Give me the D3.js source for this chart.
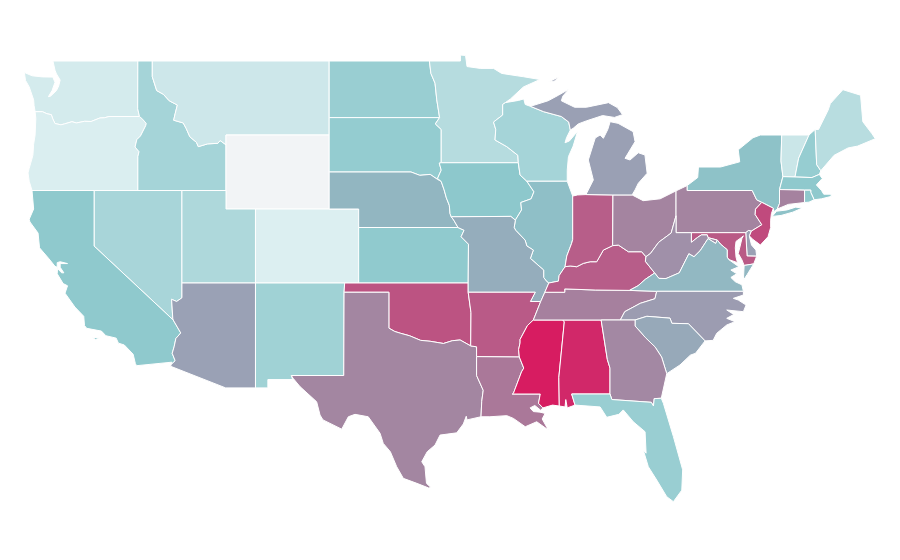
<!DOCTYPE html>
<html><head><meta charset="utf-8">
<script src="https://cdn.jsdelivr.net/npm/d3@7"></script>
<style>html,body{margin:0;background:#fff}svg{display:block}</style></head>
<body><svg id="map" width="900" height="560"></svg>
<script>
const colorDomain=[0,8,40,60,70,100];
const colorRange=["#f2f4f6","#ddeff1","#8cc8cc","#9aa0b4","#a484a0","#d81a60"];
// Shared borders, longitude/latitude
const snake=[[-117.03,43.83],[-116.95,44.1],[-117.22,44.35],[-117.1,44.75],[-116.85,44.95],[-116.5,45.5],[-116.46,45.62],[-116.7,45.85],[-116.92,46]];
const columbia=[[-116.92,46],[-118.98,46],[-119.3,45.93],[-119.6,45.92],[-120.2,45.73],[-120.65,45.74],[-121.2,45.65],[-121.5,45.72],[-122,45.6],[-122.25,45.55],[-122.65,45.62],[-122.8,45.87],[-122.9,46.1],[-123.2,46.15],[-123.5,46.26],[-124,46.26]];
const idMt=[[-116.05,49],[-116.05,48.15],[-115.75,47.4],[-115.3,47.2],[-114.9,46.85],[-114.35,46.62],[-114.5,46.15],[-114.6,45.8],[-113.95,45.65],[-113.75,45.35],[-113.5,44.9],[-113.05,44.6],[-112.93,44.37],[-112.3,44.52],[-111.6,44.55],[-111.45,44.7],[-111.05,44.47]];
const coloradoN=[[-114.04,37],[-114.04,36.2],[-114.4,36],[-114.74,36.12],[-114.66,35.09],[-114.63,35]];
const coloradoS=[[-114.63,35],[-114.12,34.3],[-114.45,34],[-114.57,33.55],[-114.7,33.2],[-114.5,32.8],[-114.76,32.6]];
const redRiver=[[-100,34.56],[-99.6,34.38],[-99.2,34.28],[-98.6,34.15],[-97.85,33.9],[-97.2,33.85],[-96.3,33.73],[-95.7,33.88],[-95.17,33.92],[-94.45,33.6]];
const redNorth=[[-97.25,49],[-97.15,48.33],[-96.87,47.8],[-96.75,46.9],[-96.56,45.94]];
const bigStone=[[-96.56,45.94],[-96.85,45.6],[-96.45,45.3],[-96.45,43.5]];
const bigSioux=[[-96.45,43.5],[-96.58,43.48],[-96.45,43.1],[-96.7,42.65],[-96.45,42.49]];
const missouriNE=[[-96.45,42.49],[-96.25,42.03],[-96.1,41.6],[-95.9,41.2],[-95.85,40.75],[-95.77,40.58]];
const neSd=[[-96.45,42.49],[-96.7,42.6],[-97.2,42.87],[-97.9,42.82],[-98.5,43],[-104.05,43]];
const stCroix=[[-92.1,46.75],[-92.28,46.65],[-92.28,46.08],[-92.9,45.7],[-92.75,45.3],[-92.8,44.73],[-92,44.37],[-91.25,43.9],[-91.22,43.5]];
const upperMiss=[[-91.22,43.5],[-91.1,42.84],[-90.64,42.5]];
const iaIl=[[-90.64,42.5],[-90.16,41.93],[-90.35,41.55],[-91.05,41.35],[-91,40.95],[-91.42,40.4]];
const moIl=[[-91.42,40.4],[-91.5,40],[-91.4,39.85],[-90.76,39.32],[-90.64,39],[-90.2,38.78],[-90.4,38.33],[-89.5,37.7],[-89.5,37.3],[-89.28,37.07],[-89.15,37]];
const moAr=[[-94.62,36.5],[-90.07,36.5],[-90.4,36],[-89.7,36]];
const lowerMissA=[[-89.7,36],[-89.85,35.7],[-90.2,35]];
const lowerMissB=[[-90.2,35],[-90.6,34.7],[-91.1,33.95],[-91.1,33.76],[-91.2,33.4],[-91.15,33]];
const lowerMissC=[[-91.15,33],[-90.85,32.4],[-91,32.2],[-91.55,31.04],[-91.62,31]];
const wabash=[[-87.53,39.35],[-87.6,39.15],[-87.93,38.46],[-88.05,37.88]];
const ohioIlKy=[[-88.05,37.88],[-88.45,37.4],[-88.5,37.1],[-89.15,37]];
const ohioInKy=[[-84.82,39.02],[-85.45,38.78],[-85.9,38.15],[-86.35,38.15],[-86.81,38.06],[-87.26,37.88],[-87.7,37.92],[-88.05,37.88]];
const ohioOhKy=[[-82.56,38.42],[-82.85,38.69],[-83.75,38.69],[-84.43,39.05],[-84.82,39.02]];
const ohioOhWv=[[-80.52,40.64],[-80.85,39.7],[-81.7,39.2],[-82.25,38.6],[-82.56,38.42]];
const tugFork=[[-81.97,37.54],[-82.6,38.17],[-82.56,38.42]];
const kyVa=[[-83.68,36.6],[-83.1,36.85],[-82.6,37.2],[-81.97,37.54]];
const vaWv=[[-77.72,39.32],[-77.83,39.14],[-78.35,39.4],[-78.87,38.76],[-79.3,38.42],[-79.65,38.58],[-80.3,37.55],[-81.2,37.24],[-81.68,37.25],[-81.97,37.54]];
const potomacWv=[[-79.48,39.2],[-79.05,39.47],[-78.8,39.6],[-78.4,39.6],[-78.35,39.45],[-77.72,39.32]];
const potomacVa=[[-77.72,39.32],[-77.5,39.1],[-77.05,38.8],[-77.05,38.4],[-76.95,38.27],[-76.26,37.88]];
const tnNc=[[-81.83,36.55],[-81.95,36.15],[-82.95,35.9],[-84,35.45],[-84.3,35]];
const delawareUp=[[-75.35,42],[-75.05,41.5],[-74.7,41.36]];
const delawareMid=[[-74.7,41.36],[-75.13,40.99],[-75.15,40.7],[-74.7,40.15],[-75.42,39.8]];
const savannah=[[-83.3,35],[-83.3,34.68],[-82.6,34.05],[-81.95,33.55],[-81.5,33],[-81.15,32.1]];
const wiMi=[[-90.4,46.55],[-89.5,46.26],[-88.3,46],[-87.8,45.7],[-87.69,45.27]];
const shoreSouth=[[-97.15,25.95],[-97.3,25.92],[-98.1,26.17],[-99.02,26.44],[-99.47,27.07],[-99.9,27.88],[-100.38,28.33],[-100.6,28.88],[-101.4,29.77],[-102.3,29.9],[-102.75,29.77],[-103.2,29.1],[-104.47,29.6],[-104.67,29.86],[-104.9,30.58],[-106.03,31.4],[-106.5,31.85]];
// State geometry, one list of rings for every state
const geoWA=[[[-122.79,49],[-117.03,49],[-117.04,46.42],...columbia,[-124.07,46.6],[-124.1,46.9],[-124.4,47.6],[-124.65,47.95],[-124.73,48.38],[-124.2,48.2],[-123.5,48.14],[-122.8,48.13],[-122.65,47.85],[-122.85,47.4],[-123.1,47.07],[-122.95,47.1],[-122.55,47.4],[-122.4,47.65],[-122.3,47.97],[-122.55,48.3],[-122.65,48.5]]];
const geoOR=[[...columbia.slice().reverse(),...snake.slice().reverse().slice(1),[-117.03,42],[-124.21,42],[-124.4,42.5],[-124.48,42.95],[-124.4,43.2],[-124.15,43.9],[-124.1,44.5],[-124,45],[-123.95,45.9]]];
const geoID=[[[-117.03,49],...idMt,[-111.05,42],[-117.03,42],...snake,[-117.04,46.42]]];
const geoMT=[[...idMt,[-111.05,45],[-104.05,45],[-104.05,49]]];
const geoWY=[[[-111.05,45],[-104.05,45],[-104.05,41],[-111.05,41]]];
const geoNV=[[[-120,42],[-114.04,42],...coloradoN,[-120,39]]];
const geoCA=[[[-124.21,42],[-120,42],[-120,39],...coloradoS,[-114.72,32.72],[-117.12,32.53],[-117.2,32.65],[-117.35,33.15],[-117.95,33.65],[-118.35,33.75],[-118.5,34.02],[-119.2,34.15],[-119.5,34.4],[-120.5,34.55],[-120.65,34.7],[-120.7,35.2],[-121.3,35.7],[-121.97,36.45],[-121.8,36.85],[-122.1,36.97],[-122.5,37.5],[-122.48,37.78],[-122.2,37.55],[-122.05,37.55],[-122.3,37.85],[-122.3,38.05],[-121.8,38.05],[-122.3,38.15],[-122.5,38.1],[-122.5,37.85],[-122.65,37.9],[-123.05,38.3],[-123.7,38.9],[-123.8,39.7],[-124.35,40.3],[-124.4,40.45],[-124.1,41]],[[-120.1,34.05],[-119.55,34.05],[-119.9,33.95]]];
const geoUT=[[[-114.04,42],[-111.05,42],[-111.05,41],[-109.05,41],[-109.05,37],[-114.04,37]]];
const geoCO=[[[-109.05,41],[-102.05,41],[-102.05,37],[-109.05,37]]];
const geoAZ=[[...coloradoN,...coloradoS.slice(1),[-114.81,32.5],[-111.07,31.33],[-109.05,31.33],[-109.05,37]]];
const geoNM=[[[-109.05,37],[-103,37],[-103.04,36.5],[-103.06,32],[-106.62,32],[-106.53,31.78],[-108.21,31.78],[-108.21,31.33],[-109.05,31.33]]];
const geoND=[[[-104.05,49],...redNorth,[-104.05,45.94]]];
const geoSD=[[[-104.05,45.94],...bigStone,...bigSioux.slice(1),...neSd.slice(1)]];
const geoNE=[[[-104.05,43],...neSd.slice().reverse().slice(1),...missouriNE.slice(1),[-95.6,40.4],[-95.31,40],[-102.05,40],[-102.05,41],[-104.05,41]]];
const geoKS=[[[-102.05,40],[-95.31,40],[-94.9,39.85],[-95.1,39.5],[-94.6,39.1],[-94.62,37],[-102.05,37]]];
const geoOK=[[[-103,37],[-94.62,37],[-94.62,36.5],[-94.43,35.4],...redRiver.slice().reverse(),[-100,36.5],[-103.04,36.5]]];
const geoTX=[[[-103.04,36.5],[-100,36.5],...redRiver,[-94.05,33.55],[-94.05,33.02],[-94.05,32],[-93.6,31.2],[-93.7,30.6],[-93.75,29.77],[-94.7,29.6],[-94.75,29.8],[-94.95,29.38],[-95.4,28.9],[-96.53,28.78],[-96.87,28.24],[-97.4,27.88],[-97.77,27.34],[-97.55,27.07],[-97.45,26.17],...shoreSouth,[-106.62,32],[-103.06,32]]];
const geoMN=[[[-97.25,49],[-95.15,49],[-95.15,49.32],[-94.8,49.3],[-94.7,48.7],[-93.8,48.6],[-92.9,48.6],[-92.35,48.33],[-91.3,48.2],[-90.87,48.15],[-89.75,48],[-90.87,47.6],[-91.75,46.95],...stCroix,[-96.45,43.5],...bigStone.slice().reverse().slice(1),...redNorth.slice().reverse().slice(1,-1)]];
const geoIA=[[[-96.45,43.5],...upperMiss,...iaIl.slice(1),[-91.73,40.6],[-95.77,40.58],...missouriNE.slice().reverse().slice(1),...bigSioux.slice().reverse().slice(1,-1)]];
const geoWI=[[[-92.1,46.75],[-91.2,46.87],[-90.85,46.95],[-90.75,46.65],...wiMi,[-87.95,44.85],[-88.05,44.58],[-87.75,44.68],[-87.2,45.2],[-87.5,44.4],[-87.82,43.83],[-87.9,43.1],[-87.9,42.5],[-90.64,42.5],...upperMiss.slice().reverse().slice(1),...stCroix.slice().reverse().slice(1,-1)]];
const geoIL=[[[-90.64,42.5],[-87.9,42.5],[-87.53,41.7],...wabash,...ohioIlKy.slice(1),...moIl.slice().reverse().slice(1),...iaIl.slice().reverse().slice(1,-1)]];
const geoMO=[[[-95.77,40.58],[-91.73,40.6],...moIl,[-89.42,36.5],[-89.7,36],[-90.4,36],[-90.07,36.5],[-94.62,36.5],[-94.62,37],[-94.6,39.1],[-95.1,39.5],[-94.9,39.85],[-95.31,40],[-95.6,40.4]]];
const geoAR=[[...moAr,...lowerMissA.slice(1),...lowerMissB.slice(1),[-94.05,33.02],[-94.05,33.55],[-94.45,33.6],[-94.43,35.4]]];
const geoLA=[[[-94.05,33.02],...lowerMissC,[-89.73,31],[-89.85,30.5],[-89.55,30.25],[-89.7,30.12],[-90.1,30.38],[-90.42,30.25],[-90.2,30.05],[-89.75,30.02],[-89.4,29.95],[-89.6,29.65],[-89.18,29.05],[-89.97,29.5],[-90.75,29.23],[-91.55,29.68],[-92,29.83],[-93.15,29.77],[-93.75,29.77],[-93.7,30.6],[-93.6,31.2],[-94.05,32]]];
const geoMS=[[...lowerMissB,...lowerMissC.slice(1),[-89.73,31],[-89.85,30.5],[-89.55,30.25],[-88.9,30.4],[-88.44,30.35],[-88.47,31.9],[-88.1,34.9],[-88.2,35]]];
const geoAL=[[[-88.2,35],[-85.6,35],[-85.18,32.87],[-85,32.4],[-85,31],[-87.6,31],[-87.37,30.4],[-87.9,30.25],[-88,30.7],[-88.05,30.3],[-88.44,30.35],[-88.47,31.9],[-88.1,34.9]]];
const geoTN=[[[-89.42,36.5],[-88.07,36.5],[-88.07,36.68],[-86,36.62],[-83.68,36.6],...tnNc,[-90.2,35],...lowerMissA.slice().reverse().slice(1)]];
const geoKY=[[[-89.15,37],...ohioIlKy.slice().reverse().slice(1),...ohioInKy.slice().reverse().slice(1),...ohioOhKy.slice().reverse().slice(1),...tugFork.slice().reverse().slice(1),...kyVa.slice().reverse().slice(1),[-86,36.62],[-88.07,36.68],[-88.07,36.5],[-89.42,36.5]]];
const geoIN=[[[-87.53,41.7],[-87.2,41.76],[-86.63,41.78],[-84.8,41.76],...ohioInKy,...wabash.slice().reverse().slice(1)]];
const geoOH=[[[-84.8,41.76],[-83.5,41.76],[-82.75,41.45],[-81.6,41.55],[-80.52,41.98],...ohioOhWv,...ohioOhKy.slice(1)]];
const geoMI=[[[-86.63,41.78],[-84.8,41.76],[-83.5,41.76],[-83.3,42.03],[-83.08,42.39],[-82.48,42.93],[-82.63,43.92],[-83.08,44.04],[-83.64,43.65],[-83.98,43.74],[-83.3,44.64],[-83.43,45.18],[-84.45,45.63],[-84.99,45.72],[-85.15,45.3],[-85.45,44.82],[-85.67,45],[-86,44.84],[-86.47,43.65],[-86.13,42.57]],[[-90.4,46.55],[-89.2,46.85],[-88.5,47.15],[-87.8,47.47],[-88.2,47.1],[-88.3,46.85],[-87.4,46.5],[-86.6,46.5],[-85.1,46.75],[-84.5,46.48],[-84.15,46.1],[-84.7,45.95],[-85.5,46.05],[-86.58,45.77],[-87.15,45.6],[-87.5,45.36],[-87.69,45.27],[-87.8,45.7],[-88.3,46],[-89.5,46.26]],[[-89.15,47.87],[-88.5,48.13],[-88.75,47.92]]];
const geoPA=[[[-80.52,41.98],[-79.76,42.27],[-79.76,42],...delawareUp,...delawareMid.slice(1),[-75.6,39.84],[-75.79,39.72],[-79.48,39.72],[-80.52,39.72],[-80.52,40.64]]];
const geoNY=[[[-79.76,42],[-79.76,42.27],[-79.05,42.7],[-79,43.27],[-77.5,43.27],[-76.2,43.55],[-76.3,44.2],[-75.3,44.85],[-74.8,45],[-73.35,45],[-73.4,43.6],[-73.27,42.75],[-73.5,42.05],[-73.5,41.3],[-73.65,41],[-73.9,40.85],[-73.92,41.04],...delawareUp.slice().reverse()],[[-74,40.6],[-73.7,40.88],[-73,40.95],[-72.4,41.1],[-71.95,41.05],[-72.6,40.83],[-73.4,40.65]]];
const geoNJ=[[[-74.7,41.36],[-73.92,41.04],[-74.05,40.75],[-74.1,40.4],[-74.1,40],[-74.28,39.5],[-74.8,39.05],[-74.95,39.15],[-75.3,39.35],[-75.55,39.55],[-75.42,39.8],...delawareMid.slice(1,-1).reverse()]];
const geoDE=[[[-75.79,39.72],[-75.6,39.84],[-75.42,39.8],[-75.55,39.55],[-75.4,39.05],[-75.1,38.78],[-75.05,38.45],[-75.7,38.46]]];
const geoMD=[[[-79.48,39.72],[-75.79,39.72],[-75.7,38.46],[-75.05,38.45],[-75.25,38.03],[-75.9,37.95],[-76.05,38.25],[-76.3,38.6],[-76.2,38.9],[-76.05,39.4],[-75.95,39.55],[-76.1,39.45],[-76.45,39.25],[-76.5,38.9],[-76.45,38.4],[-76.35,38.1],[-76.95,38.27],[-77.05,38.4],[-77.05,38.8],[-77.5,39.1],[-77.72,39.32],...potomacWv.slice().reverse().slice(1)]];
const geoWV=[[[-80.52,40.64],[-80.52,39.72],[-79.48,39.72],...potomacWv,...vaWv.slice(1),...tugFork.slice(1),...ohioOhWv.slice().reverse().slice(1,-1)]];
const geoVA=[[[-83.68,36.6],...kyVa.slice(1),...vaWv.slice().reverse().slice(1),...potomacVa.slice(1),[-76.8,37.7],[-76.4,37.5],[-76.8,37.3],[-76.5,37.07],[-76.05,36.9],[-75.95,36.55],[-81.83,36.55]],[[-75.25,38.03],[-75.9,37.95],[-75.95,37.15],[-75.7,37.45]]];
const geoNC=[[[-84.3,35],[-83.3,35],[-82.5,35.2],[-80.93,35.1],[-80.8,34.82],[-79.68,34.8],[-78.55,33.87],[-78,33.9],[-77.76,34.28],[-77.08,34.73],[-76.52,34.91],[-77.08,35.09],[-76.6,35.3],[-77.08,35.54],[-75.95,35.45],[-75.77,35.81],[-76.3,36.08],[-76.63,36.17],[-75.95,36.35],[-75.95,36.55],[-81.83,36.55],...tnNc.slice(1,-1)]];
const geoSC=[[...savannah,[-80.25,32.57],[-79.55,33.1],[-79.2,33.2],[-78.55,33.87],[-79.68,34.8],[-80.8,34.82],[-80.93,35.1],[-82.5,35.2]]];
const geoGA=[[[-85.6,35],[-83.3,35],...savannah.slice(1),[-81.52,30.77],[-82,30.75],[-82.05,30.35],[-82.2,30.55],[-84.87,30.7],[-85,31],[-85,32.4],[-85.18,32.87]]];
const geoFL=[[[-87.6,31],[-85,31],[-84.87,30.7],[-82.2,30.55],[-82.05,30.35],[-82,30.75],[-81.52,30.77],[-81.38,30.5],[-80.7,28.7],[-80.07,26.9],[-80.13,25.8],[-80.7,25.18],[-81.15,25.45],[-81.83,26.35],[-82.4,27.07],[-82.74,27.97],[-82.55,27.8],[-82.62,28.96],[-83.42,29.5],[-84.1,30.14],[-84.4,29.9],[-85.22,29.74],[-85.67,30.3],[-87.37,30.4]]];
const geoVT=[[[-73.35,45],[-71.5,45],[-72.2,43.75],[-72.45,42.73],[-73.27,42.75],[-73.4,43.6]]];
const geoNH=[[[-71.5,45],[-71.08,45.3],[-70.98,43.4],[-70.7,43.07],[-70.8,42.87],[-71.3,42.7],[-72.45,42.73],[-72.2,43.75]]];
const geoME=[[[-71.08,45.3],[-70.85,45.3],[-70.2,46.35],[-70.05,46.7],[-69.2,47.45],[-68,47.15],[-67.85,45.72],[-67.25,45.09],[-67,44.8],[-68.2,44.4],[-68.85,44.3],[-69.8,43.9],[-70.7,43.07],[-70.98,43.4]]];
const geoMA=[[[-73.27,42.75],[-72.45,42.73],[-71.3,42.7],[-70.8,42.87],[-70.6,42.65],[-71,42.3],[-70.65,42],[-70.5,41.8],[-70,41.8],[-70,41.68],[-70.65,41.55],[-71.15,41.5],[-71.38,41.9],[-71.38,42.02],[-71.8,42.02],[-73.5,42.05]]];
const geoCT=[[[-73.5,42.05],[-71.8,42.02],[-71.8,41.35],[-72.9,41.25],[-73.65,41],[-73.5,41.3]]];
const geoRI=[[[-71.8,42.02],[-71.38,42.02],[-71.38,41.9],[-71.15,41.5],[-71.5,41.37],[-71.8,41.35]]];

const stateNames=["WA","OR","ID","MT","WY","NV","CA","UT","CO","AZ","NM","ND","SD","NE","KS","OK","TX","MN","IA","WI","IL","MO","AR","LA","MS","AL","TN","KY","IN","OH","MI","PA","NY","NJ","DE","MD","WV","VA","NC","SC","GA","FL","VT","NH","ME","MA","CT","RI"];
const stateValues=[11.6,9.2,30,14.3,0,29,38.8,26.6,8.4,59.5,32,35,36.8,49,38.4,84,69.3,23.4,39.6,30,44.5,53.5,81.9,73.4,99.5,96,71,81,80.7,70,60,70,43,86.4,60,82,65.7,48,61.5,55.5,68.5,35,15.5,36,22.6,39,70.6,39];
const stateShapes=[geoWA,geoOR,geoID,geoMT,geoWY,geoNV,geoCA,geoUT,geoCO,geoAZ,geoNM,geoND,geoSD,geoNE,geoKS,geoOK,geoTX,geoMN,geoIA,geoWI,geoIL,geoMO,geoAR,geoLA,geoMS,geoAL,geoTN,geoKY,geoIN,geoOH,geoMI,geoPA,geoNY,geoNJ,geoDE,geoMD,geoWV,geoVA,geoNC,geoSC,geoGA,geoFL,geoVT,geoNH,geoME,geoMA,geoCT,geoRI];

const lonScale=d3.scaleLinear().domain([-117.04,-87.53]).range([137.7,572.7]);
const latScale=d3.scaleLinear().domain([49,37]).range([61,283]);
const color=d3.scaleLinear().domain(colorDomain).range(colorRange);
const path=d3.geoPath(d3.geoTransform({point(x,y){this.stream.point(lonScale(x),latScale(y));}}));
const closeRing=r=>{const a=r[0],b=r[r.length-1];return (a[0]===b[0]&&a[1]===b[1])?r:[...r,a];};
const features=stateNames.map((name,i)=>({type:"Feature",properties:{name,value:stateValues[i]},
  geometry:{type:"MultiPolygon",coordinates:stateShapes[i].map(r=>[closeRing(r)])}}));
d3.select("#map").selectAll("path").data(features).join("path")
  .attr("d",path).attr("fill",d=>color(d.properties.value))
  .attr("stroke","#fff").attr("stroke-width",1).attr("stroke-linejoin","round");
</script></body></html>
